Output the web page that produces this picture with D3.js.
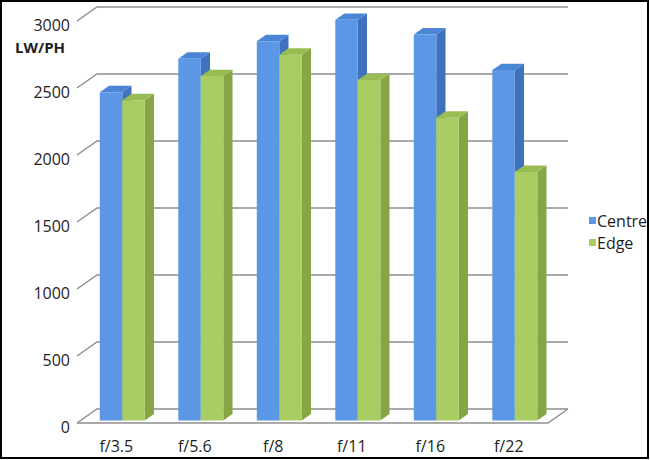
<!DOCTYPE html>
<html>
<head>
<meta charset="utf-8">
<script src="https://cdn.jsdelivr.net/npm/d3@7"></script>
<style>
  html, body { margin: 0; padding: 0; background: #fff; }
  svg { display: block; }
  text { font-family: "Open Sans", sans-serif; fill: #1e1e1e; }
</style>
</head>
<body>
<svg id="chart" width="650" height="460"></svg>
<script>
const categories = ["f/3.5", "f/5.6", "f/8", "f/11", "f/16", "f/22"];
const centreValues = [2450, 2700, 2830, 2990, 2880, 2615];
const edgeValues = [2390, 2570, 2730, 2540, 2260, 1855];
const seriesNames = ["Centre", "Edge"];
const yTicks = [0, 500, 1000, 1500, 2000, 2500, 3000];
const axisTitle = "LW/PH";

const svg = d3.select("#chart");
const W = 650, H = 460;

// front-plane scales
const x = d3.scaleBand().domain(categories).range([77, 548]).paddingInner(0).paddingOuter(0);
const y = d3.scaleLinear().domain([0, 3000]).range([423, 21]);

// depth projection (full depth of the floor)
const DX = 20, DY = -14;
const proj = (px, v, d) => [px + d * DX, y(v) + d * DY];

const grid = svg.append("g");
const gridColor = "#8e8e8e";

// wall gridlines + left diagonals
yTicks.forEach(t => {
  const a = proj(x.range()[0], t, 0), b = proj(x.range()[0], t, 1), c = proj(x.range()[1], t, 1);
  grid.append("path")
    .attr("d", `M${a[0]},${a[1]}L${b[0]},${b[1]}L${c[0]},${c[1]}`)
    .attr("fill", "none").attr("stroke", gridColor).attr("stroke-width", 1.4);
});
// floor front edge and right diagonal
{
  const a = proj(x.range()[0], 0, 0), b = proj(x.range()[1], 0, 0), c = proj(x.range()[1], 0, 1);
  grid.append("path")
    .attr("d", `M${a[0]},${a[1]}L${b[0]},${b[1]}L${c[0]},${c[1]}`)
    .attr("fill", "none").attr("stroke", gridColor).attr("stroke-width", 1.4);
}

// bars
const colors = [
  { front: "#5b97e4", top: "#4b86d6", side: "#3f72bd" },
  { front: "#a8cd62", top: "#98bd53", side: "#86a544" }
];
const d0 = 0.18, d1 = 0.64, barW = 22.5, offset = 19.2;
const series = [centreValues, edgeValues];
const bars = svg.append("g");
categories.forEach((cat, i) => {
  series.forEach((vals, s) => {
    const v = vals[i];
    const x0 = x(cat) + offset + s * barW, x1 = x0 + barW;
    const col = colors[s];
    const f00 = proj(x0, 0, d0), f10 = proj(x1, 0, d0), f0v = proj(x0, v, d0), f1v = proj(x1, v, d0);
    const b10 = proj(x1, 0, d1), b0v = proj(x0, v, d1), b1v = proj(x1, v, d1);
    const P = pts => "M" + pts.map(p => p.join(",")).join("L") + "Z";
    bars.append("path").attr("d", P([f10, b10, b1v, f1v])).attr("fill", col.side);
    bars.append("path").attr("d", P([f0v, f1v, b1v, b0v])).attr("fill", col.top);
    bars.append("path").attr("d", P([f00, f10, f1v, f0v])).attr("fill", col.front);
  });
});

// y axis labels
const yAxis = svg.append("g").attr("transform", "translate(70,0)")
  .call(d3.axisLeft(y).tickValues(yTicks).tickSize(0).tickPadding(0).tickFormat(d3.format("d")));
yAxis.select(".domain").remove();
yAxis.selectAll("text").attr("font-family", "Open Sans, sans-serif").attr("font-size", 16)
  .attr("fill", "#1e1e1e").attr("dy", "0.6em");

// x axis labels
const xAxis = svg.append("g").attr("transform", "translate(0,446)")
  .call(d3.axisBottom(x).tickSize(0).tickPadding(0));
xAxis.select(".domain").remove();
xAxis.selectAll("text").attr("font-family", "Open Sans, sans-serif").attr("font-size", 16)
  .attr("fill", "#1e1e1e").attr("dy", "0.35em");

// axis title
svg.append("text").attr("x", 15).attr("y", 53).attr("font-size", 15).attr("font-weight", "bold")
  .text(axisTitle);

// legend
const legend = svg.append("g");
seriesNames.forEach((name, i) => {
  const cy = 221 + i * 22;
  legend.append("rect").attr("x", 589).attr("y", cy - 4).attr("width", 7).attr("height", 7)
    .attr("fill", colors[i].front);
  legend.append("text").attr("x", 597).attr("y", cy).attr("dy", "0.35em").attr("font-size", 16)
    .text(name);
});

// outer border
svg.append("rect").attr("x", 1).attr("y", 1).attr("width", W - 3).attr("height", H - 3)
  .attr("fill", "none").attr("stroke", "#000").attr("stroke-width", 2);
</script>
</body>
</html>
